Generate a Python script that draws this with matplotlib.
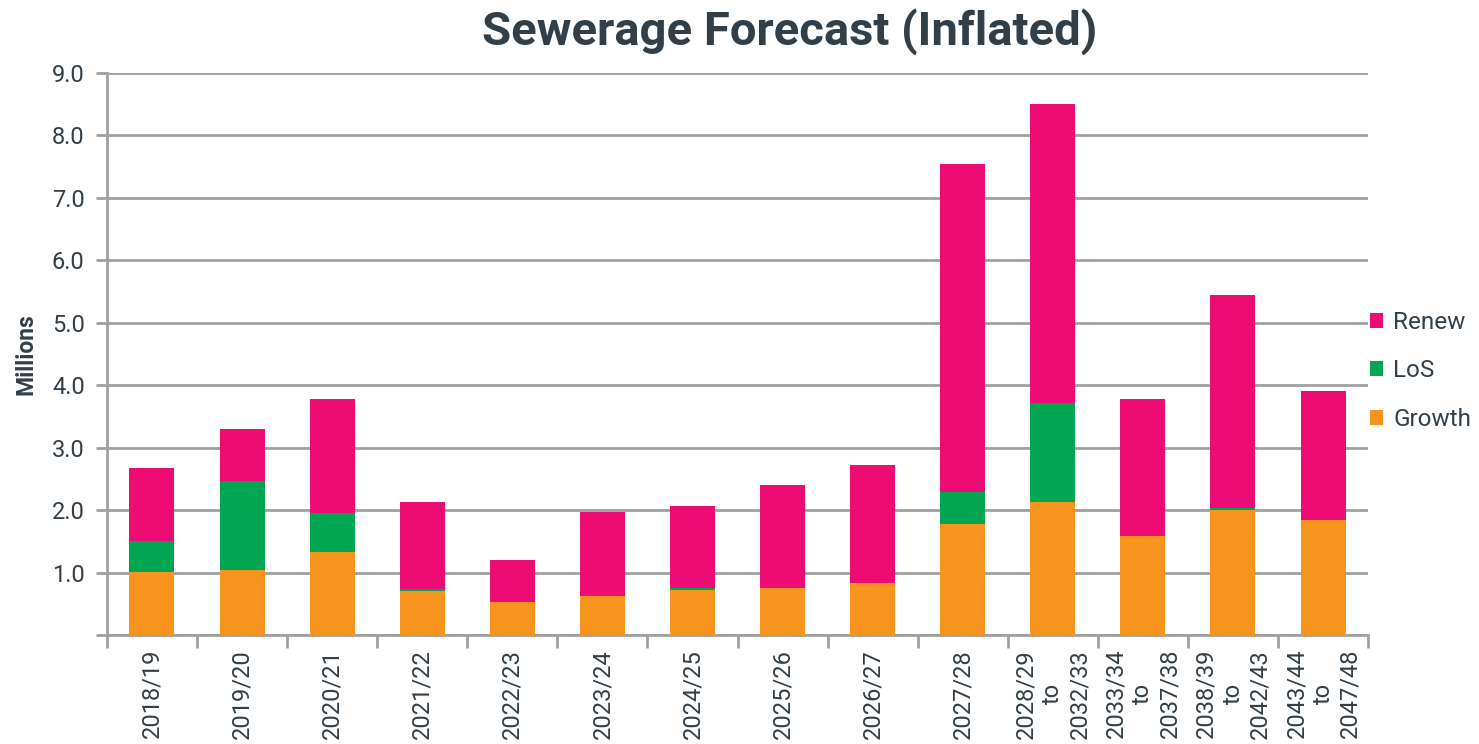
import numpy as np
import matplotlib.pyplot as plt

# Категории (годы) и значения по сериям, млн
years = ['2018/19', '2019/20', '2020/21', '2021/22', '2022/23', '2023/24',
         '2024/25', '2025/26', '2026/27', '2027/28',
         '2028/29\nto\n2032/33', '2033/34\nto\n2037/38',
         '2038/39\nto\n2042/43', '2043/44\nto\n2047/48']
growth = [1.01, 1.04, 1.33, 0.70, 0.53, 0.62, 0.72, 0.75, 0.83, 1.78, 2.13, 1.58, 2.00, 1.84]
los = [0.50, 1.43, 0.62, 0.04, 0.00, 0.00, 0.04, 0.00, 0.00, 0.51, 1.59, 0.01, 0.03, 0.00]
renew = [1.16, 0.83, 1.83, 1.39, 0.67, 1.35, 1.31, 1.65, 1.89, 5.25, 4.78, 2.19, 3.41, 2.07]

y_ticks = [0, 1, 2, 3, 4, 5, 6, 7, 8, 9]

c_growth = '#F7941D'
c_los = '#00A651'
c_renew = '#EC0C73'
txt = '#333F48'
grid_c = '#A0A0A0'

plt.rcParams['font.family'] = ['Roboto', 'DejaVu Sans']

fig = plt.figure(figsize=(14.79, 7.44), dpi=100)
ax = fig.add_axes([0.0723, 0.1465, 0.925 - 0.0723, 0.9019 - 0.1465])

x = np.arange(len(years))
g = np.array(growth)
l = np.array(los)
r = np.array(renew)
ax.bar(x, g, 0.5, color=c_growth, label='Growth', zorder=3)
ax.bar(x, l, 0.5, bottom=g, color=c_los, label='LoS', zorder=3)
ax.bar(x, r, 0.5, bottom=g + l, color=c_renew, label='Renew', zorder=3)

ax.set_xlim(-0.5, len(years) - 0.5)
ax.set_ylim(0, 9)
ax.set_yticks(y_ticks)
ax.set_yticklabels(['' if v == 0 else f'{v:.1f}' for v in y_ticks])
ax.yaxis.grid(True, color=grid_c, linewidth=2, zorder=0)

# подписи по центру столбцов, засечки между категориями
ax.set_xticks(x)
ax.set_xticklabels(years, rotation=90, multialignment='center', va='top', ha='center')
ax.set_xticks(np.arange(len(years) + 1) - 0.5, minor=True)
ax.tick_params(axis='x', which='major', length=0, pad=10, labelsize=17, labelcolor=txt)
ax.tick_params(axis='x', which='minor', length=9, width=2, color=grid_c, direction='out')
ax.tick_params(axis='y', length=8, width=2, color=grid_c, pad=8, labelsize=17, labelcolor=txt)

for s in ['top', 'right']:
    ax.spines[s].set_visible(False)
for s in ['left', 'bottom']:
    ax.spines[s].set_color(grid_c)
    ax.spines[s].set_linewidth(2)

ax.set_ylabel('Millions', fontsize=16.5, fontweight='bold', color=txt, labelpad=10)
fig.text(0.534, 0.958, 'Sewerage Forecast (Inflated)', ha='center', va='center',
         fontsize=34, fontweight='bold', color=txt)

handles, labels = ax.get_legend_handles_labels()
leg = ax.legend(handles[::-1], labels[::-1], loc='center left', bbox_to_anchor=(1.0016, 0.47),
                frameon=False, fontsize=17.5, handlelength=0.55, handleheight=0.55,
                handletextpad=0.4, labelspacing=1.05, labelcolor=txt,
                borderpad=0, borderaxespad=0)

fig.savefig('out.png', dpi=100)
